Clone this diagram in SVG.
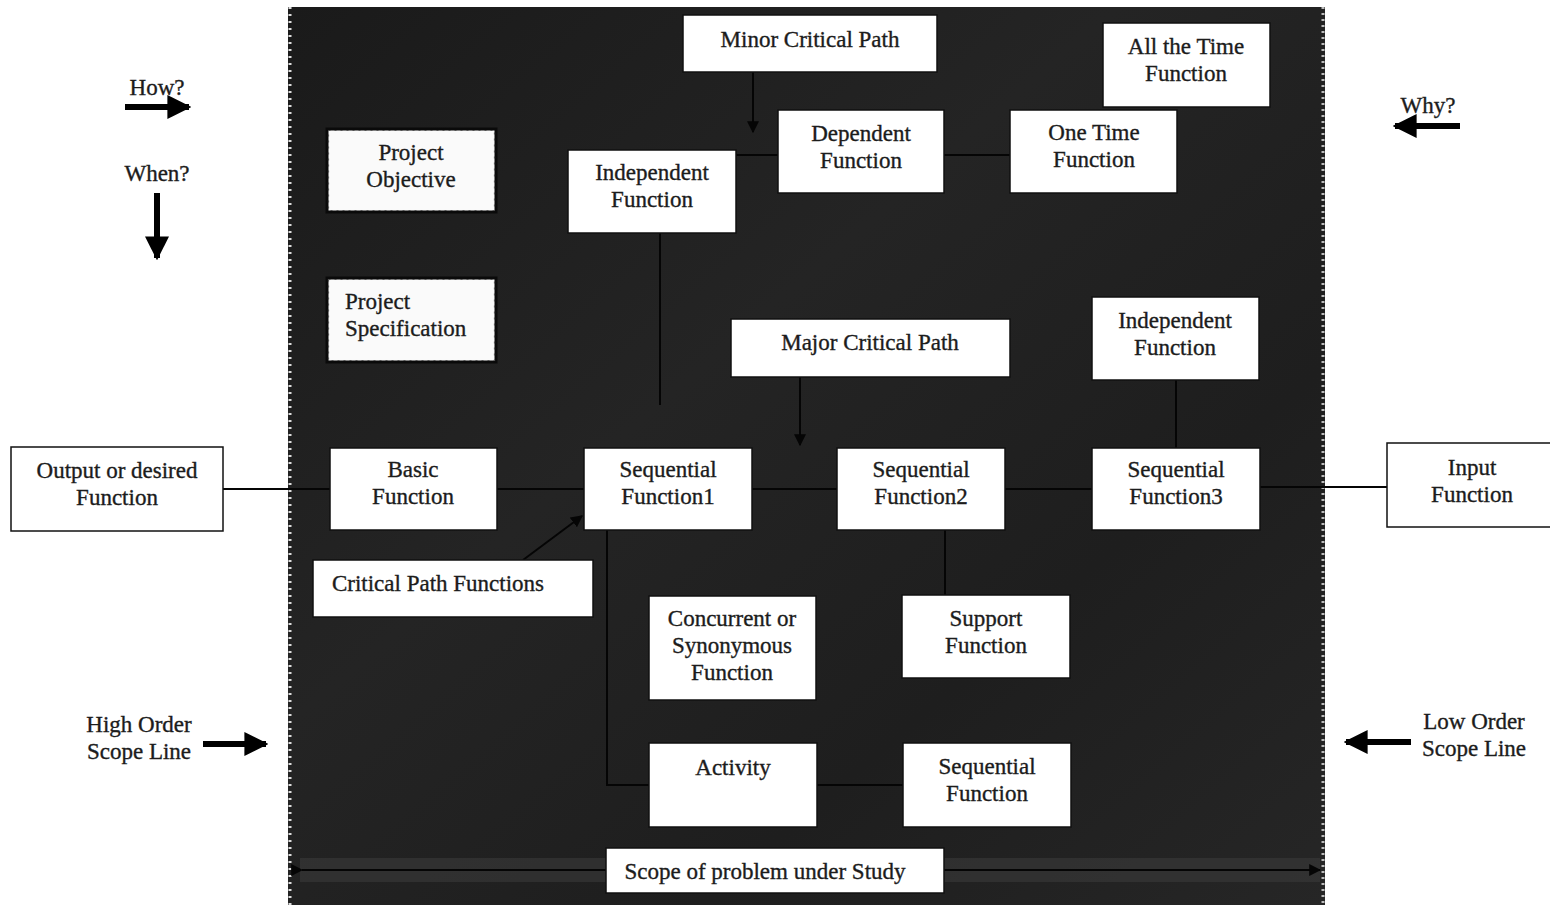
<svg xmlns="http://www.w3.org/2000/svg" width="1550" height="905" viewBox="0 0 1550 905">
<style>
.box{fill:#fff;stroke:#111;stroke-width:1.5}
.dbox{fill:#fafafa;stroke:#0a0a0a;stroke-width:3}
.dash{fill:none;stroke:#555;stroke-width:1.2;stroke-dasharray:2 4}
.t{font-family:"Liberation Serif","Times New Roman",serif;font-size:23px;fill:#1c1c1c;stroke:#1c1c1c;stroke-width:0.35;text-anchor:middle}
.tl{font-family:"Liberation Serif","Times New Roman",serif;font-size:23px;fill:#1c1c1c;stroke:#1c1c1c;stroke-width:0.35}
.c{stroke:#050505;stroke-width:2;fill:none}
.big{stroke:#000;stroke-width:6;fill:none}
</style>
<defs>
<marker id="ah2" viewBox="0 0 10 10" refX="9" refY="5" markerWidth="12" markerHeight="12" markerUnits="userSpaceOnUse" orient="auto">
<path d="M0,0 L10,5 L0,10 z" fill="#050505"/>
</marker>
<marker id="big" viewBox="0 0 10 10" refX="9" refY="5" markerWidth="4" markerHeight="4" orient="auto">
<path d="M0,0 L10,5 L0,10 z" fill="#000"/>
</marker>
<linearGradient id="bg" x1="0" y1="0" x2="1" y2="1">
<stop offset="0" stop-color="#1a1a1a"/>
<stop offset="0.4" stop-color="#242424"/>
<stop offset="0.7" stop-color="#1e1e1e"/>
<stop offset="1" stop-color="#262626"/>
</linearGradient>
</defs>
<rect x="0" y="0" width="1550" height="905" fill="#fff"/>
<g id="background">
<rect x="288" y="7" width="1037" height="898" fill="url(#bg)"/>
<line x1="290" y1="7" x2="290" y2="905" stroke="#ddd" stroke-width="3" stroke-dasharray="2 5"/>
<line x1="1323" y1="7" x2="1323" y2="905" stroke="#bbb" stroke-width="3" stroke-dasharray="2 4"/>
<rect x="300" y="858" width="1020" height="24" fill="#3a3a3a" opacity="0.6"/>
</g>
<g id="connectors">
<line class="c" x1="223" y1="489" x2="330" y2="489"/>
<line class="c" x1="497" y1="489" x2="584" y2="489"/>
<line class="c" x1="752" y1="489" x2="837" y2="489"/>
<line class="c" x1="1005" y1="489" x2="1092" y2="489"/>
<line class="c" x1="1260" y1="487" x2="1387" y2="487"/>
<line class="c" x1="660" y1="195" x2="660" y2="405"/>
<line class="c" x1="730" y1="155" x2="778" y2="155"/>
<line class="c" x1="944" y1="155" x2="1010" y2="155"/>
<line class="c" x1="753" y1="60" x2="753" y2="132" marker-end="url(#ah2)"/>
<line class="c" x1="800" y1="377" x2="800" y2="445" marker-end="url(#ah2)"/>
<line class="c" x1="523" y1="560" x2="582" y2="516" marker-end="url(#ah2)"/>
<line class="c" x1="1176" y1="380" x2="1176" y2="448"/>
<line class="c" x1="945" y1="530" x2="945" y2="595"/>
<polyline class="c" points="607,530 607,785 649,785"/>
<line class="c" x1="817" y1="785" x2="903" y2="785"/>
<line class="c" x1="302" y1="870" x2="1320" y2="870" stroke-width="3" marker-start="url(#ah2)" marker-end="url(#ah2)"/>
</g>
<g id="minor-critical-path"><rect class="box" x="683" y="15" width="254" height="57"/><text class="t" x="810" y="47">Minor Critical Path</text></g>
<g id="all-the-time"><rect class="box" x="1103" y="23" width="167" height="84"/><text class="t" x="1186" y="54">All the Time</text><text class="t" x="1186" y="81">Function</text></g>
<g id="dependent"><rect class="box" x="778" y="110" width="166" height="83"/><text class="t" x="861" y="141">Dependent</text><text class="t" x="861" y="168">Function</text></g>
<g id="one-time"><rect class="box" x="1010" y="110" width="167" height="83"/><text class="t" x="1094" y="140">One Time</text><text class="t" x="1094" y="167">Function</text></g>
<g id="independent-top"><rect class="box" x="568" y="150" width="168" height="83"/><text class="t" x="652" y="180">Independent</text><text class="t" x="652" y="207">Function</text></g>
<g id="project-objective"><rect class="dbox" x="327" y="129" width="169" height="83"/><rect class="dash" x="328.5" y="130.5" width="166" height="80"/><text class="t" x="411" y="160">Project</text><text class="t" x="411" y="187">Objective</text></g>
<g id="project-specification"><rect class="dbox" x="327" y="278" width="169" height="84"/><rect class="dash" x="328.5" y="279.5" width="166" height="81"/><text class="tl" x="345" y="309">Project</text><text class="tl" x="345" y="336">Specification</text></g>
<g id="major-critical-path"><rect class="box" x="731" y="319" width="279" height="58"/><text class="t" x="870" y="350">Major Critical Path</text></g>
<g id="independent-right"><rect class="box" x="1092" y="297" width="167" height="83"/><text class="t" x="1175" y="328">Independent</text><text class="t" x="1175" y="355">Function</text></g>
<g id="output-function"><rect class="box" x="11" y="447" width="212" height="84"/><text class="t" x="117" y="478">Output or desired</text><text class="t" x="117" y="505">Function</text></g>
<g id="basic-function"><rect class="box" x="330" y="448" width="167" height="82"/><text class="t" x="413" y="477">Basic</text><text class="t" x="413" y="504">Function</text></g>
<g id="sequential1"><rect class="box" x="584" y="448" width="168" height="82"/><text class="t" x="668" y="477">Sequential</text><text class="t" x="668" y="504">Function1</text></g>
<g id="sequential2"><rect class="box" x="837" y="448" width="168" height="82"/><text class="t" x="921" y="477">Sequential</text><text class="t" x="921" y="504">Function2</text></g>
<g id="sequential3"><rect class="box" x="1092" y="448" width="168" height="82"/><text class="t" x="1176" y="477">Sequential</text><text class="t" x="1176" y="504">Function3</text></g>
<g id="input-function"><rect class="box" x="1387" y="443" width="170" height="84"/><text class="t" x="1472" y="475">Input</text><text class="t" x="1472" y="502">Function</text></g>
<g id="critical-path-functions"><rect class="box" x="313" y="560" width="280" height="57"/><text class="t" x="438" y="591">Critical Path Functions</text></g>
<g id="concurrent"><rect class="box" x="649" y="596" width="167" height="104"/><text class="t" x="732" y="626">Concurrent or</text><text class="t" x="732" y="653">Synonymous</text><text class="t" x="732" y="680">Function</text></g>
<g id="support"><rect class="box" x="902" y="595" width="168" height="83"/><text class="t" x="986" y="626">Support</text><text class="t" x="986" y="653">Function</text></g>
<g id="activity"><rect class="box" x="649" y="743" width="168" height="84"/><text class="t" x="733" y="775">Activity</text></g>
<g id="sequential-bottom"><rect class="box" x="903" y="743" width="168" height="84"/><text class="t" x="987" y="774">Sequential</text><text class="t" x="987" y="801">Function</text></g>
<g id="scope-problem"><rect class="box" x="606" y="848" width="338" height="45"/><text class="t" x="765" y="879">Scope of problem under Study</text></g>
<g id="how"><text class="t" x="157" y="95">How?</text><line class="big" x1="125" y1="107" x2="189" y2="107" marker-end="url(#big)"/></g>
<g id="when"><text class="t" x="157" y="181">When?</text><line class="big" x1="157" y1="193" x2="157" y2="258" marker-end="url(#big)"/></g>
<g id="why"><text class="t" x="1428" y="113">Why?</text><line class="big" x1="1460" y1="126" x2="1395" y2="126" marker-end="url(#big)"/></g>
<g id="high-order"><text class="t" x="139" y="732">High Order</text><text class="t" x="139" y="759">Scope Line</text><line class="big" x1="203" y1="744" x2="266" y2="744" marker-end="url(#big)"/></g>
<g id="low-order"><text class="t" x="1474" y="729">Low Order</text><text class="t" x="1474" y="756">Scope Line</text><line class="big" x1="1411" y1="742" x2="1346" y2="742" marker-end="url(#big)"/></g>
</svg>
